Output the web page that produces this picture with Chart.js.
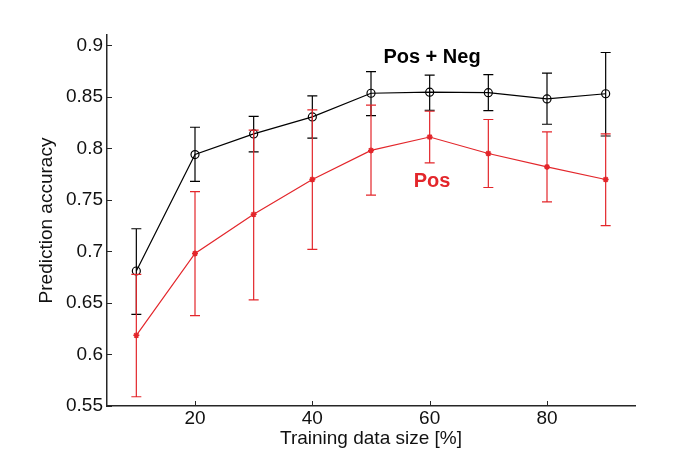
<!DOCTYPE html>
<html>
<head>
<meta charset="utf-8">
<script src="https://cdn.jsdelivr.net/npm/chart.js@4/dist/chart.umd.min.js"></script>
<style>
  html, body { margin: 0; padding: 0; background: #fff; }
  #wrap { width: 685px; height: 469px; }
</style>
</head>
<body>
<div id="wrap"><canvas id="chart"></canvas></div>
<script>
const trainSize = [10, 20, 30, 40, 50, 60, 70, 80, 90];

// Pos + Neg (black)
const posNegMean = [0.681, 0.794, 0.814, 0.8305, 0.8535, 0.8545, 0.854, 0.848, 0.853];
const posNegHigh = [0.722, 0.8205, 0.831, 0.851, 0.8745, 0.871, 0.8716, 0.873, 0.893];
const posNegLow  = [0.639, 0.768, 0.7966, 0.810, 0.8318, 0.837, 0.8367, 0.8234, 0.812];

// Pos (red)
const posMean = [0.6186, 0.698, 0.736, 0.7698, 0.798, 0.811, 0.795, 0.782, 0.7698];
const posHigh = [0.6777, 0.758, 0.8176, 0.8373, 0.842, 0.836, 0.828, 0.816, 0.814];
const posLow  = [0.559, 0.6376, 0.653, 0.702, 0.7546, 0.786, 0.762, 0.748, 0.725];

const xTicks = [20, 40, 60, 80];
const yTicks = [0.55, 0.6, 0.65, 0.7, 0.75, 0.8, 0.85, 0.9];

const RED = "#e3262b";
const AXIS = "#262626";
const FONT = "'Liberation Sans', Arial, sans-serif";

function toPoints(ys) {
  return trainSize.map((x, i) => ({ x: x, y: ys[i] }));
}

// error bars, inward ticks and the two series labels
const extras = {
  id: "extras",
  afterDatasetsDraw(chart) {
    const ctx = chart.ctx;
    const xs = chart.scales.x;
    const ys = chart.scales.y;
    const area = chart.chartArea;
    const bars = [
      { lo: posNegLow, hi: posNegHigh, color: "#000" },
      { lo: posLow, hi: posHigh, color: RED }
    ];
    ctx.save();
    ctx.lineWidth = 1.2;
    bars.forEach(b => {
      ctx.strokeStyle = b.color;
      trainSize.forEach((x, i) => {
        const px = xs.getPixelForValue(x);
        const top = ys.getPixelForValue(b.hi[i]);
        const bot = ys.getPixelForValue(b.lo[i]);
        ctx.beginPath();
        ctx.moveTo(px, top); ctx.lineTo(px, bot);
        ctx.moveTo(px - 5, top); ctx.lineTo(px + 5, top);
        ctx.moveTo(px - 5, bot); ctx.lineTo(px + 5, bot);
        ctx.stroke();
      });
    });

    ctx.strokeStyle = AXIS;
    ctx.lineWidth = 1;
    xTicks.forEach(v => {
      const px = Math.round(xs.getPixelForValue(v)) + 0.5;
      ctx.beginPath();
      ctx.moveTo(px, area.bottom);
      ctx.lineTo(px, area.bottom - 5);
      ctx.stroke();
    });
    yTicks.forEach(v => {
      const py = Math.round(ys.getPixelForValue(v)) + 0.5;
      ctx.beginPath();
      ctx.moveTo(area.left, py);
      ctx.lineTo(area.left + 5, py);
      ctx.stroke();
    });

    ctx.font = "bold 20px " + FONT;
    ctx.textAlign = "center";
    ctx.textBaseline = "middle";
    ctx.fillStyle = "#000";
    ctx.fillText("Pos + Neg", xs.getPixelForValue(60.4), ys.getPixelForValue(0.888));
    ctx.fillStyle = RED;
    ctx.fillText("Pos", xs.getPixelForValue(60.4), ys.getPixelForValue(0.768));
    ctx.restore();
  }
};

new Chart(document.getElementById("chart"), {
  type: "line",
  data: {
    datasets: [
      {
        label: "Pos + Neg",
        data: toPoints(posNegMean),
        borderColor: "#000",
        backgroundColor: "rgba(0,0,0,0)",
        borderWidth: 1.2,
        pointStyle: "circle",
        pointRadius: 4,
        pointBorderWidth: 1.2,
        pointBorderColor: "#000",
        pointBackgroundColor: "rgba(0,0,0,0)"
      },
      {
        label: "Pos",
        data: toPoints(posMean),
        borderColor: RED,
        backgroundColor: RED,
        borderWidth: 1.2,
        pointStyle: "star",
        pointRadius: 3,
        pointBorderWidth: 1.5,
        pointBorderColor: RED
      }
    ]
  },
  options: {
    responsive: true,
    maintainAspectRatio: false,
    animation: false,
    layout: { padding: { top: 35, right: 50, left: 35, bottom: 19 } },
    plugins: {
      legend: { display: false },
      tooltip: { enabled: false }
    },
    scales: {
      x: {
        type: "linear",
        min: 5,
        max: 95,
        afterBuildTicks: s => { s.ticks = xTicks.map(v => ({ value: v })); },
        afterFit: s => { s.height = 44; },
        border: { display: true, color: AXIS, width: 1.5 },
        grid: { display: false, drawTicks: false },
        ticks: { color: "#111", font: { family: FONT, size: 19 }, padding: 1 },
        title: {
          display: true,
          text: "Training data size [%]",
          color: "#111",
          font: { family: FONT, size: 19 },
          padding: { top: 0, bottom: 0 }
        }
      },
      y: {
        min: 0.55,
        max: 0.91,
        afterBuildTicks: s => { s.ticks = yTicks.map(v => ({ value: v })); },
        afterFit: s => { s.width = 72; },
        border: { display: true, color: AXIS, width: 1.5 },
        grid: { display: false, drawTicks: false },
        ticks: {
          color: "#111",
          font: { family: FONT, size: 19 },
          padding: 4,
          callback: v => String(Math.round(v * 100) / 100)
        },
        title: {
          display: true,
          text: "Prediction accuracy",
          color: "#111",
          font: { family: FONT, size: 19 },
          padding: { top: 0, bottom: 0 }
        }
      }
    }
  },
  plugins: [extras]
});
</script>
</body>
</html>
